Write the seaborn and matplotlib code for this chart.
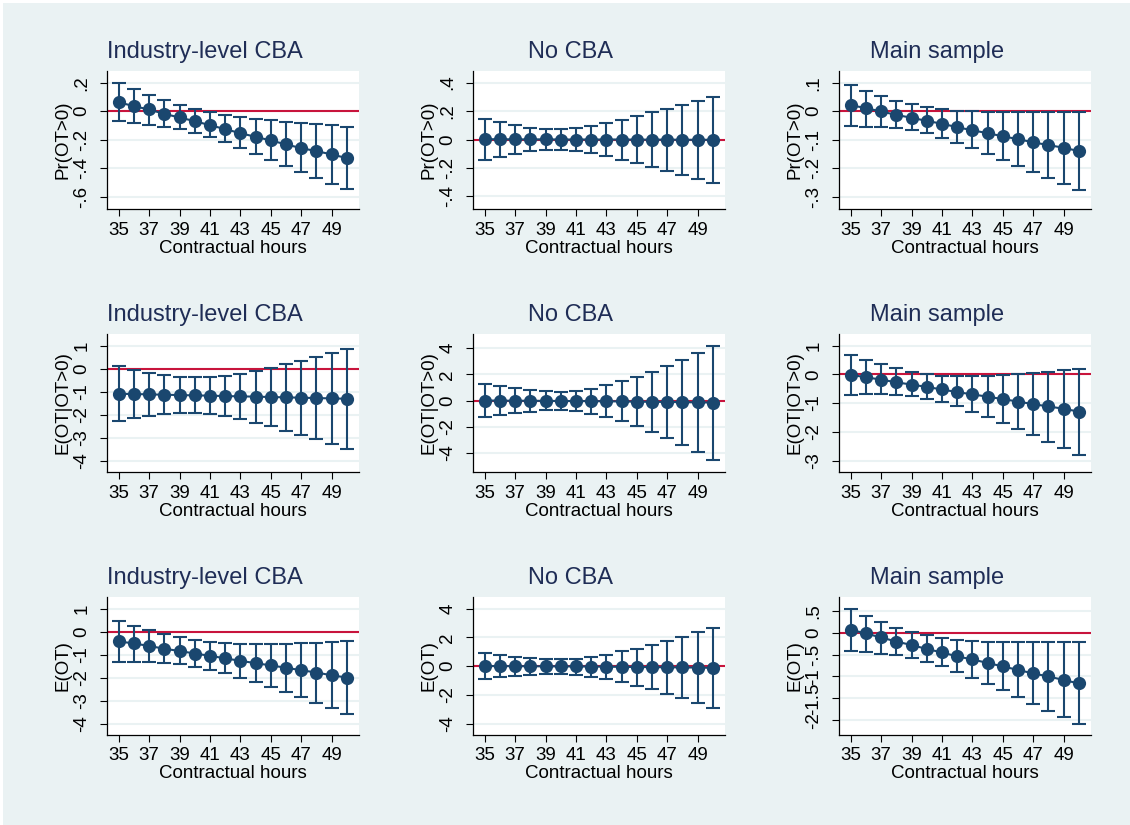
import matplotlib
matplotlib.use("Agg")
import matplotlib.pyplot as plt
from matplotlib.patches import Rectangle
from matplotlib.ticker import FixedLocator, FuncFormatter
import seaborn as sns
import pandas as pd

# ---------------------------------------------------------------- data
hours = [35, 36, 37, 38, 39, 40, 41, 42, 43, 44, 45, 46, 47, 48, 49, 50]
hour_ticks = [35, 37, 39, 41, 43, 45, 47, 49]

panel_titles = ["Industry-level CBA", "No CBA", "Main sample"]
row_labels = ["Pr(OT>0)", "E(OT|OT>0)", "E(OT)"]
x_label = "Contractual hours"

# Pr(OT>0)
pr_ind_est = [0.063, 0.035, 0.012, -0.019, -0.044, -0.070, -0.098, -0.126,
              -0.154, -0.180, -0.205, -0.233, -0.259, -0.280, -0.303, -0.329]
pr_ind_lo = [-0.068, -0.082, -0.096, -0.112, -0.128, -0.154, -0.184, -0.219,
             -0.257, -0.301, -0.341, -0.383, -0.425, -0.467, -0.509, -0.548]
pr_ind_hi = [0.200, 0.154, 0.114, 0.077, 0.044, 0.014, -0.007, -0.028,
             -0.044, -0.056, -0.063, -0.075, -0.086, -0.093, -0.100, -0.110]

pr_no_est = [0.002, 0.002, 0.001, 0.001, 0.001, 0.000, 0.000, 0.000,
             0.000, 0.000, -0.001, -0.001, -0.001, -0.002, -0.002, -0.002]
pr_no_lo = [-0.147, -0.120, -0.100, -0.084, -0.073, -0.073, -0.082, -0.098,
            -0.119, -0.142, -0.168, -0.196, -0.222, -0.250, -0.277, -0.309]
pr_no_hi = [0.147, 0.124, 0.100, 0.084, 0.073, 0.073, 0.082, 0.098,
            0.119, 0.140, 0.166, 0.194, 0.218, 0.246, 0.271, 0.300]

pr_main_est = [0.021, 0.011, -0.001, -0.013, -0.023, -0.034, -0.044, -0.056,
               -0.067, -0.077, -0.088, -0.098, -0.109, -0.119, -0.128, -0.140]
pr_main_lo = [-0.051, -0.054, -0.056, -0.060, -0.067, -0.078, -0.093, -0.110,
              -0.128, -0.149, -0.170, -0.193, -0.212, -0.233, -0.256, -0.277]
pr_main_hi = [0.092, 0.071, 0.054, 0.037, 0.025, 0.013, 0.006, 0.001,
              -0.001, -0.002, -0.002, -0.002, -0.002, -0.002, -0.002, -0.002]

# E(OT|OT>0)
econd_ind_est = [-1.100, -1.110, -1.125, -1.140, -1.155, -1.170, -1.180, -1.200,
                 -1.210, -1.225, -1.240, -1.255, -1.270, -1.285, -1.300, -1.315]
econd_ind_lo = [-2.27, -2.15, -2.05, -1.97, -1.94, -1.93, -1.97, -2.07,
                -2.21, -2.35, -2.51, -2.70, -2.87, -3.08, -3.27, -3.49]
econd_ind_hi = [0.09, -0.07, -0.19, -0.29, -0.35, -0.39, -0.38, -0.32,
                -0.22, -0.12, 0.03, 0.175, 0.32, 0.50, 0.66, 0.85]

econd_no_est = [0.01, 0.00, -0.01, -0.01, -0.02, -0.03, -0.03, -0.04,
                -0.05, -0.06, -0.08, -0.09, -0.10, -0.12, -0.13, -0.15]
econd_no_lo = [-1.26, -1.13, -0.97, -0.85, -0.74, -0.72, -0.82, -1.00,
               -1.28, -1.59, -1.97, -2.38, -2.87, -3.38, -3.92, -4.54]
econd_no_hi = [1.28, 1.15, 0.97, 0.82, 0.72, 0.67, 0.74, 0.92,
               1.18, 1.46, 1.82, 2.20, 2.64, 3.10, 3.64, 4.18]

econd_main_est = [-0.020, -0.105, -0.187, -0.280, -0.360, -0.440, -0.530, -0.620,
                  -0.700, -0.780, -0.865, -0.950, -1.040, -1.120, -1.200, -1.300]
econd_main_lo = [-0.71, -0.69, -0.70, -0.725, -0.77, -0.85, -0.98, -1.12,
                 -1.30, -1.49, -1.68, -1.89, -2.12, -2.34, -2.58, -2.82]
econd_main_hi = [0.67, 0.49, 0.34, 0.21, 0.08, 0.00, -0.06, -0.07,
                 -0.07, -0.06, -0.035, 0.00, 0.05, 0.09, 0.14, 0.20]

# E(OT)
e_ind_est = [-0.41, -0.50, -0.61, -0.73, -0.83, -0.94, -1.04, -1.15,
             -1.26, -1.36, -1.46, -1.56, -1.67, -1.77, -1.89, -1.99]
e_ind_lo = [-1.29, -1.29, -1.29, -1.35, -1.40, -1.52, -1.64, -1.80,
            -1.99, -2.19, -2.40, -2.62, -2.85, -3.08, -3.32, -3.57]
e_ind_hi = [0.47, 0.26, 0.07, -0.07, -0.23, -0.35, -0.42, -0.48,
            -0.51, -0.53, -0.53, -0.53, -0.50, -0.47, -0.44, -0.41]

e_no_est = [0.01, 0.00, 0.00, -0.01, -0.01, -0.02, -0.02, -0.03,
            -0.04, -0.05, -0.06, -0.07, -0.08, -0.09, -0.10, -0.12]
e_no_lo = [-0.89, -0.79, -0.70, -0.61, -0.54, -0.54, -0.61, -0.75,
           -0.89, -1.10, -1.35, -1.61, -1.91, -2.19, -2.56, -2.91]
e_no_hi = [0.93, 0.77, 0.65, 0.56, 0.49, 0.47, 0.51, 0.65,
           0.79, 1.03, 1.21, 1.45, 1.75, 2.03, 2.35, 2.68]

e_main_est = [0.070, -0.015, -0.107, -0.200, -0.280, -0.370, -0.450, -0.540,
              -0.610, -0.690, -0.770, -0.850, -0.930, -1.000, -1.080, -1.160]
e_main_lo = [-0.42, -0.44, -0.475, -0.51, -0.58, -0.66, -0.77, -0.89,
             -1.03, -1.17, -1.32, -1.47, -1.62, -1.78, -1.93, -2.09]
e_main_hi = [0.54, 0.39, 0.25, 0.12, 0.023, -0.06, -0.12, -0.16,
             -0.19, -0.20, -0.20, -0.20, -0.20, -0.20, -0.20, -0.20]

# y-axis ticks per panel
pr_ind_ticks = [-0.6, -0.4, -0.2, 0, 0.2]
pr_no_ticks = [-0.4, -0.2, 0, 0.2, 0.4]
pr_main_ticks = [-0.3, -0.2, -0.1, 0, 0.1]
econd_ind_ticks = [-4, -3, -2, -1, 0, 1]
econd_no_ticks = [-4, -2, 0, 2, 4]
econd_main_ticks = [-3, -2, -1, 0, 1]
e_ind_ticks = [-4, -3, -2, -1, 0, 1]
e_no_ticks = [-4, -2, 0, 2, 4]
e_main_ticks = [-2, -1.5, -1, -0.5, 0, 0.5]

panels = [
    [(pr_ind_est, pr_ind_lo, pr_ind_hi, pr_ind_ticks, (-0.686, 0.282)),
     (pr_no_est, pr_no_lo, pr_no_hi, pr_no_ticks, (-0.489, 0.482)),
     (pr_main_est, pr_main_lo, pr_main_hi, pr_main_ticks, (-0.343, 0.141))],
    [(econd_ind_est, econd_ind_lo, econd_ind_hi, econd_ind_ticks, (-4.5, 1.5)),
     (econd_no_est, econd_no_lo, econd_no_hi, econd_no_ticks, (-5.44, 5.08)),
     (econd_main_est, econd_main_lo, econd_main_hi, econd_main_ticks, (-3.4, 1.4))],
    [(e_ind_est, e_ind_lo, e_ind_hi, e_ind_ticks, (-4.5, 1.53)),
     (e_no_est, e_no_lo, e_no_hi, e_no_ticks, (-4.8, 4.82)),
     (e_main_est, e_main_lo, e_main_hi, e_main_ticks, (-2.34, 0.82))],
]

# ---------------------------------------------------------------- style
NAVY = "#1A476F"
RED = "#C8143C"
BG = "#EAF2F3"
TITLE_COLOR = "#1F2D56"

sns.set_theme(style="white")
plt.rcParams["font.family"] = ["Liberation Sans", "DejaVu Sans"]

W, H = 1130, 825
fig = plt.figure(figsize=(W / 100, H / 100), dpi=100, facecolor="white")
fig.patches.append(Rectangle((3 / W, 0), 1 - 3 / W, 1 - 3 / H,
                             transform=fig.transFigure, facecolor=BG,
                             edgecolor="none", zorder=-10))

col_left = [107, 473, 839]
col_width = 252
row_top = [71, 334, 597]
row_height = 138

xlabel_offset = 39   # px below the x axis (label centre)
ylabel_offset = 44   # px left of the y axis (label centre)


def stata_fmt(v, _pos=None):
    if abs(v) < 1e-12:
        return "0"
    s = f"{v:g}"
    if s.startswith("0."):
        s = s[1:]
    elif s.startswith("-0."):
        s = "-" + s[2:]
    return s


for r in range(3):
    for c in range(3):
        est, lo, hi, yticks, ylim = panels[r][c]
        left = col_left[c] / W
        bottom = 1 - (row_top[r] + row_height) / H
        ax = fig.add_axes([left, bottom, col_width / W, row_height / H])
        ax.set_facecolor("white")

        df = pd.DataFrame({"hours": hours, "est": est, "lo": lo, "hi": hi})

        ax.axhline(0, color=RED, lw=1.5, zorder=2)
        ax.errorbar(df["hours"], df["est"],
                    yerr=[df["est"] - df["lo"], df["hi"] - df["est"]],
                    fmt="none", ecolor=NAVY, elinewidth=1.5,
                    capsize=5, capthick=1.5, zorder=3)
        sns.lineplot(data=df, x="hours", y="est", ax=ax, color=NAVY,
                     lw=1.5, marker="o", markersize=9.5,
                     markeredgecolor=NAVY, markeredgewidth=0, zorder=4)

        ax.set_xlim(34.23, 50.8)
        ax.set_ylim(*ylim)
        ax.xaxis.set_major_locator(FixedLocator(hour_ticks))
        ax.yaxis.set_major_locator(FixedLocator(yticks))
        ax.yaxis.set_major_formatter(FuncFormatter(stata_fmt))

        ax.grid(axis="y", color=BG, lw=1.5)
        ax.grid(axis="x", visible=False)
        ax.set_axisbelow(True)

        for side in ["top", "right"]:
            ax.spines[side].set_visible(False)
        for side in ["left", "bottom"]:
            ax.spines[side].set_color("black")
            ax.spines[side].set_linewidth(0.9)

        ax.tick_params(axis="both", which="major", direction="out",
                       length=5, width=0.8, color="black",
                       labelsize=13.5, labelcolor="black", left=True, bottom=True)
        ax.tick_params(axis="x", pad=4)
        ax.tick_params(axis="y", pad=7, labelrotation=90)
        for lab in ax.get_yticklabels():
            lab.set_va("center")

        ax.set_xlabel(x_label, fontsize=13.5, color="black", va="center")
        ax.xaxis.set_label_coords(0.5, -xlabel_offset / row_height)
        ax.set_ylabel(row_labels[r], fontsize=13.5, color="black", va="center")
        ax.yaxis.set_label_coords(-ylabel_offset / col_width, 0.5)

        title_x = (col_left[c] + col_width / 2 - 28) / W
        title_y = 1 - (row_top[r] - 19) / H
        fig.text(title_x, title_y, panel_titles[c], fontsize=17,
                 color=TITLE_COLOR, ha="center", va="center")

fig.savefig("out.png", dpi=100, facecolor=fig.get_facecolor())
